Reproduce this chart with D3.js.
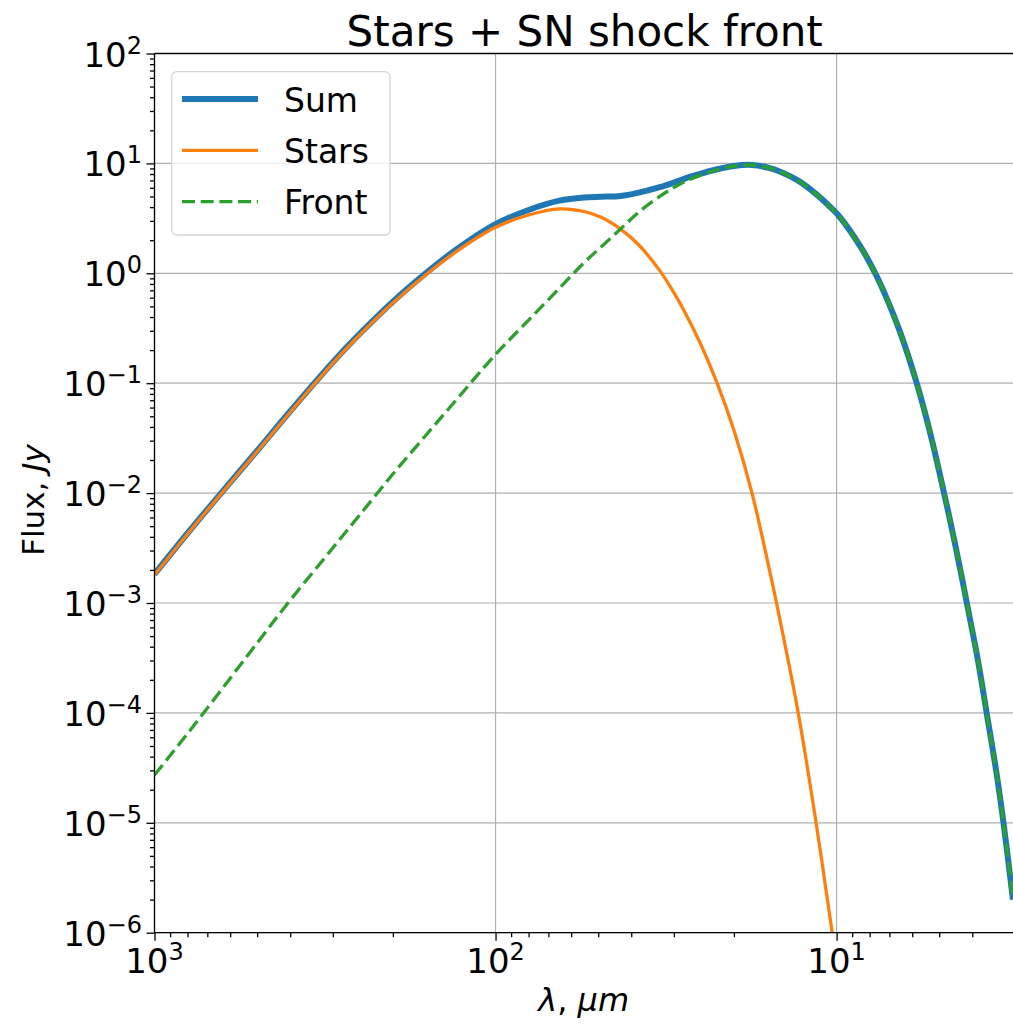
<!DOCTYPE html>
<html>
<head>
<meta charset="utf-8">
<script src="https://cdn.jsdelivr.net/npm/d3@7"></script>
<style>
  body { margin: 0; background: #fff; }
  text { font-family: "DejaVu Sans", sans-serif; fill: #000; }
</style>
</head>
<body>
<div id="chart"></div>
<script>
// wavelength grid, micron (descending, as the axis is reversed)
const lambdaUm = [1000, 800, 635, 500, 400, 300, 250, 200, 158, 130, 100, 80, 65, 55, 49, 43, 38, 33, 30, 28,
  25, 22.4, 20, 17.7, 15.7, 15, 13, 11.5, 10.3, 9.8, 8.5, 7.7, 7.2, 6.5, 5.82, 5.3, 4.84, 4.5, 4.15, 3.85,
  3.63, 3.4, 3.24, 3.04];

// flux, Jy
const stars = [1.80e-3, 4.25e-3, 1.0e-2, 0.0239, 0.0544, 0.152, 0.276, 0.537, 1.0, 1.585, 2.62, 3.39, 3.85, 3.65,
  3.23, 2.52, 1.81, 1.057, 0.668, 0.457, 0.225, 0.1, 0.0373, 0.01, 1.94e-3, 1.0e-3, 1.06e-4, 1.03e-5, 1.0e-6, 3.35e-7,
  null, null, null, null, null, null, null, null, null, null, null, null, null, null];

const front = [2.72e-5, 6.49e-5, 1.64e-4, 4.33e-4, 1.06e-3, 3.17e-3, 6.35e-3, 0.0149, 0.0352, 0.0711, 0.183, 0.375,
  0.73, 1.25, 1.74, 2.53, 3.61, 5.01, 6.03, 6.78, 7.83, 8.75, 9.44, 9.67, 9.06, 8.66, 7.0, 5.28, 3.85, 3.27,
  1.74, 1.0, 0.637, 0.287, 0.1, 0.034, 0.01, 3.53e-3, 1.0e-3, 3.0e-4, 1.0e-4, 2.89e-5, 1.0e-5, 2.0e-6];

const sum = [1.83e-3, 4.31e-3, 1.016e-2, 0.0243, 0.0555, 0.155, 0.282, 0.552, 1.035, 1.656, 2.80, 3.77, 4.58, 4.90,
  4.97, 5.05, 5.42, 6.07, 6.70, 7.24, 8.06, 8.85, 9.48, 9.68, 9.06, 8.66, 7.0, 5.28, 3.85, 3.27,
  1.74, 1.0, 0.637, 0.287, 0.1, 0.034, 0.01, 3.53e-3, 1.0e-3, 3.0e-4, 1.0e-4, 2.89e-5, 1.0e-5, 2.0e-6];

const seriesNames = ['Sum', 'Stars', 'Front'];
const xMajorExp = [3, 2, 1];
const yMajorExp = [2, 1, 0, -1, -2, -3, -4, -5, -6];

const width = 1013;
const height = 1027;
const margin = { left: 154.5, top: 53.5 };
const plotW = 860.4;
const plotH = 879.2;

const x = d3.scaleLog().domain([1000, 3]).range([0, plotW]);
const y = d3.scaleLog().domain([1e-6, 1e2]).range([plotH, 0]);

const svg = d3.select('#chart').append('svg')
  .attr('width', width)
  .attr('height', height);

svg.append('defs').append('clipPath')
  .attr('id', 'plot-clip')
  .append('rect')
    .attr('width', plotW)
    .attr('height', plotH);

const g = svg.append('g')
  .attr('transform', `translate(${margin.left}, ${margin.top})`);

const minorOf = (exps, lo, hi) =>
  exps.flatMap(e => d3.range(2, 10).map(m => m * Math.pow(10, e)))
    .filter(v => v > lo && v < hi);

const xMajor = xMajorExp.map(e => Math.pow(10, e));
const xMinor = minorOf([2, 1, 0], 3, 1000);
const yMajor = yMajorExp.map(e => Math.pow(10, e));
const yMinor = minorOf([1, 0, -1, -2, -3, -4, -5, -6], 1e-6, 1e2);

// grid
g.append('g').selectAll('line').data(xMajor).join('line')
  .attr('x1', x).attr('x2', x).attr('y1', 0).attr('y2', plotH)
  .attr('stroke', '#b0b0b0').attr('stroke-width', 1.2);
g.append('g').selectAll('line').data(yMajor).join('line')
  .attr('y1', y).attr('y2', y).attr('x1', 0).attr('x2', plotW)
  .attr('stroke', '#b0b0b0').attr('stroke-width', 1.2);

// curves
const line = d3.line()
  .defined(d => d[1] != null)
  .x(d => x(d[0]))
  .y(d => y(d[1]))
  .curve(d3.curveCatmullRom.alpha(0.5));

const series = [
  { name: 'Sum', values: sum, color: '#1f77b4', width: 6, dash: null },
  { name: 'Stars', values: stars, color: '#ff7f0e', width: 3.3, dash: null },
  { name: 'Front', values: front, color: '#2ca02c', width: 3.3, dash: '13,5.7' }
];

const curves = g.append('g').attr('clip-path', 'url(#plot-clip)');
series.forEach(s => {
  curves.append('path')
    .datum(d3.zip(lambdaUm, s.values))
    .attr('d', line)
    .attr('fill', 'none')
    .attr('stroke', s.color)
    .attr('stroke-width', s.width)
    .attr('stroke-dasharray', s.dash);
});

// axes
const xAxis = g.append('g').attr('transform', `translate(0, ${plotH})`);
xAxis.call(d3.axisBottom(x).tickValues(xMinor).tickSize(4.5).tickFormat(''));
xAxis.append('g').call(d3.axisBottom(x).tickValues(xMajor).tickSize(8).tickFormat(''));

const yAxis = g.append('g');
yAxis.call(d3.axisLeft(y).tickValues(yMinor).tickSize(4.5).tickFormat(''));
yAxis.append('g').call(d3.axisLeft(y).tickValues(yMajor).tickSize(8).tickFormat(''));

g.selectAll('.domain').remove();
g.selectAll('.tick line').attr('stroke', '#000').attr('stroke-width', 1.3);

// spines
g.append('line').attr('x1', 0).attr('x2', 0).attr('y1', 0).attr('y2', plotH)
  .attr('stroke', '#000').attr('stroke-width', 1.3);
g.append('line').attr('x1', 0).attr('x2', plotW).attr('y1', plotH).attr('y2', plotH)
  .attr('stroke', '#000').attr('stroke-width', 1.3);
g.append('line').attr('x1', 0).attr('x2', plotW).attr('y1', 0).attr('y2', 0)
  .attr('stroke', '#000').attr('stroke-width', 1.3);
g.append('line').attr('x1', plotW).attr('x2', plotW).attr('y1', 0).attr('y2', plotH)
  .attr('stroke', '#000').attr('stroke-width', 1.3);

// power-of-ten labels
const powLabel = (sel, e) => {
  sel.append('tspan').text('10');
  sel.append('tspan')
    .attr('dy', -13)
    .attr('font-size', 24)
    .text(e < 0 ? '\u2212' + (-e) : String(e));
};

xMajorExp.forEach(e => {
  g.append('text')
    .attr('x', x(Math.pow(10, e)))
    .attr('y', plotH + 40.6)
    .attr('text-anchor', 'middle')
    .attr('font-size', 34)
    .call(powLabel, e);
});

yMajorExp.forEach(e => {
  g.append('text')
    .attr('x', -12.5)
    .attr('y', y(Math.pow(10, e)) + 13)
    .attr('text-anchor', 'end')
    .attr('font-size', 34)
    .call(powLabel, e);
});

// axis labels
const xl = g.append('text')
  .attr('x', plotW / 2 - 1)
  .attr('y', plotH + 78)
  .attr('text-anchor', 'middle')
  .attr('font-size', 32);
xl.append('tspan').attr('font-style', 'italic').text('\u03bb');
xl.append('tspan').text(', ');
xl.append('tspan').attr('font-style', 'italic').text('\u03bcm');

const yl = svg.append('text')
  .attr('transform', `translate(44, 500) rotate(-90)`)
  .attr('text-anchor', 'middle')
  .attr('font-size', 31);
yl.append('tspan').text('Flux, ');
yl.append('tspan').attr('font-style', 'italic').text('Jy');

// title
svg.append('text')
  .attr('x', margin.left + plotW / 2)
  .attr('y', 46)
  .attr('text-anchor', 'middle')
  .attr('font-size', 42)
  .text('Stars + SN shock front');

// legend
const legend = svg.append('g');
legend.append('rect')
  .attr('x', 171.7).attr('y', 71.7)
  .attr('width', 218.3).attr('height', 163.3)
  .attr('rx', 5)
  .attr('fill', '#fff').attr('fill-opacity', 0.8)
  .attr('stroke', '#d6d6d6').attr('stroke-width', 1.3);

series.forEach((s, i) => {
  const ly = 99 + i * 51.3;
  legend.append('line')
    .attr('x1', 182).attr('x2', 258)
    .attr('y1', ly).attr('y2', ly)
    .attr('stroke', s.color)
    .attr('stroke-width', s.width)
    .attr('stroke-dasharray', s.dash);
  legend.append('text')
    .attr('x', 284)
    .attr('y', ly + 12.5)
    .attr('font-size', 33)
    .text(seriesNames[i]);
});
</script>
</body>
</html>
